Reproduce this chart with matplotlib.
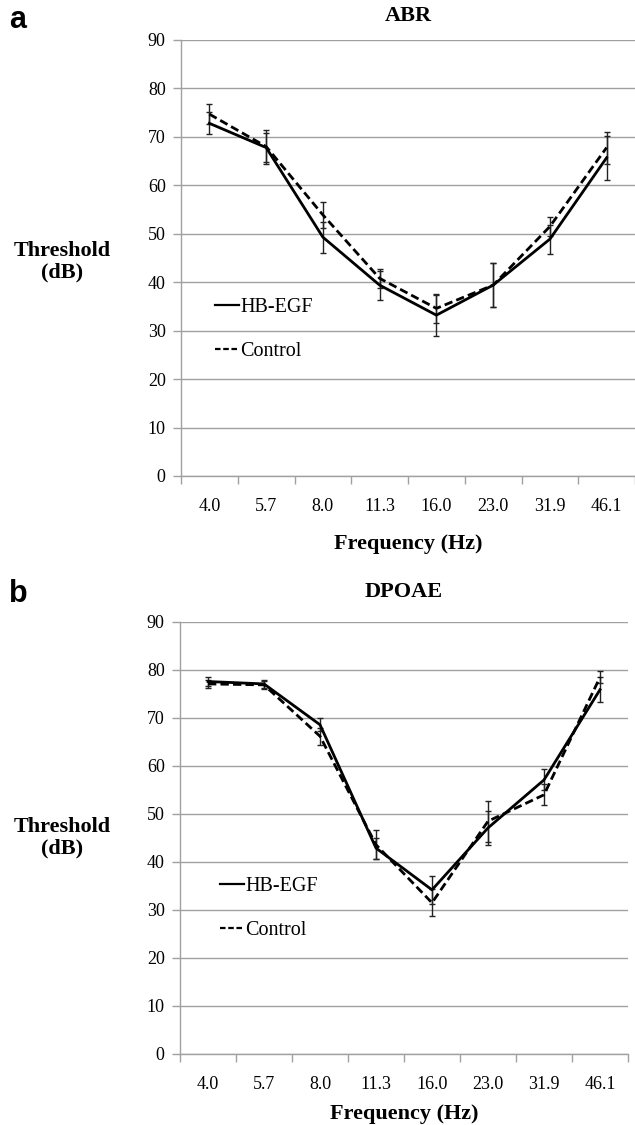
import matplotlib
matplotlib.use("Agg")
import matplotlib.pyplot as plt
from matplotlib.lines import Line2D
import numpy as np

freqs = ["4.0", "5.7", "8.0", "11.3", "16.0", "23.0", "31.9", "46.1"]

# ABR thresholds (dB)
abr_hb = [72.8, 67.8, 49.3, 39.4, 33.2, 39.4, 48.9, 65.7]
abr_hb_err = [2.3, 3.0, 3.2, 3.0, 4.2, 4.5, 3.0, 4.5]
abr_ctl = [74.7, 68.0, 53.9, 40.8, 34.6, 39.4, 51.5, 67.8]
abr_ctl_err = [2.0, 3.5, 2.7, 2.0, 3.0, 4.5, 2.0, 3.3]

# DPOAE thresholds (dB)
dp_hb = [77.6, 77.1, 68.6, 42.9, 34.2, 47.1, 57.1, 75.9]
dp_hb_err = [0.9, 0.8, 1.3, 2.2, 2.9, 3.5, 2.2, 2.6]
dp_ctl = [77.1, 76.9, 66.2, 43.6, 31.5, 48.5, 54.0, 78.5]
dp_ctl_err = [0.9, 0.8, 1.8, 3.0, 2.8, 4.3, 2.2, 1.2]

plt.rcParams['font.family'] = ['Liberation Serif', 'DejaVu Serif']

W, H = 635, 1125
fig = plt.figure(figsize=(W / 100, H / 100), dpi=100)

grid_col = "#a0a0a0"
dash = (0, (3, 1.5))


def draw_panel(rect, xmax, hb, hb_err, ctl, ctl_err, title, title_pad, lab_pad, leg_pos):
    ax = fig.add_axes(rect)
    x = np.arange(len(freqs))
    ax.errorbar(x, hb, yerr=hb_err, color="black", lw=2, ecolor="#222222",
                elinewidth=1, capsize=2.5, capthick=1, zorder=3)
    ax.errorbar(x, ctl, yerr=ctl_err, color="black", lw=2, ls=dash,
                ecolor="#222222", elinewidth=1, capsize=2.5, capthick=1, zorder=3)
    ax.set_xlim(-0.5, xmax)
    ax.set_ylim(0, 90)
    ax.set_yticks(np.arange(0, 91, 10))
    ax.yaxis.grid(True, color=grid_col, lw=1)
    ax.set_axisbelow(True)
    ax.set_xticks(x)
    ax.set_xticklabels(freqs)
    ax.set_xticks(np.arange(-0.5, 8, 1), minor=True)
    ax.tick_params(axis="x", which="major", length=0, pad=16, labelsize=13)
    ax.tick_params(axis="x", which="minor", length=6, color=grid_col, width=1)
    ax.tick_params(axis="y", length=6, color=grid_col, width=1, pad=5, labelsize=13)
    for s in ["top", "right"]:
        ax.spines[s].set_visible(False)
    for s in ["left", "bottom"]:
        ax.spines[s].set_color(grid_col)
        ax.spines[s].set_linewidth(1)
    ax.set_title(title, fontsize=16, fontweight="bold", pad=title_pad)
    ax.set_xlabel("Frequency (Hz)", fontsize=16, fontweight="bold", labelpad=lab_pad)
    handles = [Line2D([], [], color="black", lw=1.6),
               Line2D([], [], color="black", lw=1.6, ls=(0, (2.5, 1.2)))]
    ax.legend(handles, ["HB-EGF", "Control"], loc="center left",
              bbox_to_anchor=leg_pos, frameon=False,
              fontsize=14.5, handlelength=1.2, handletextpad=0.05,
              labelspacing=1.2, borderaxespad=0, borderpad=0)
    return ax


ax_a = draw_panel([181 / W, 1 - 476 / H, 454 / W, 436 / H], 7.42,
                  abr_hb, abr_hb_err, abr_ctl, abr_ctl_err, "ABR", 14, 13.5,
                  (0.075, 0.336))
ax_b = draw_panel([180 / W, 1 - 1054 / H, 448 / W, 432 / H], 7.5,
                  dp_hb, dp_hb_err, dp_ctl, dp_ctl_err, "DPOAE", 18, 7.5,
                  (0.09, 0.337))

fig.text(62 / W, 1 - 262 / H, "Threshold\n(dB)", ha="center", va="center",
         fontsize=16, fontweight="bold", linespacing=1.1)
fig.text(62 / W, 1 - 838 / H, "Threshold\n(dB)", ha="center", va="center",
         fontsize=16, fontweight="bold", linespacing=1.1)

fig.text(9 / W, 1 - 20 / H, "a", ha="left", va="center", fontsize=22,
         fontweight="bold", family="Liberation Sans")
fig.text(9 / W, 1 - 594 / H, "b", ha="left", va="center", fontsize=22,
         fontweight="bold", family="Liberation Sans")

fig.savefig("out.png", dpi=100)
